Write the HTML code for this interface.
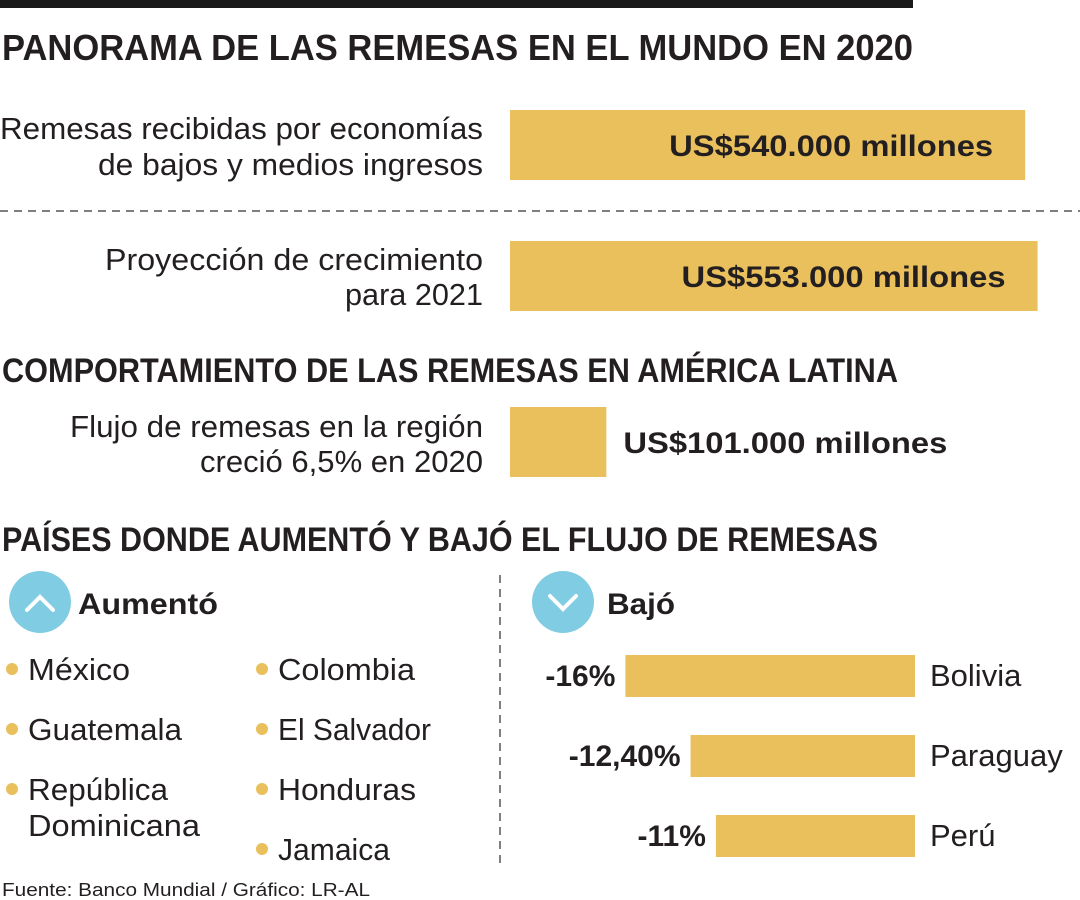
<!DOCTYPE html>
<html><head><meta charset="utf-8"><style>
html,body{margin:0;padding:0;background:#fff;width:1080px;height:900px;overflow:hidden}
svg text{font-family:"Liberation Sans",sans-serif;fill:#231F20}
.b{font-weight:bold}
</style></head><body>
<svg id="s" width="1080" height="900" viewBox="0 0 1080 900" xmlns="http://www.w3.org/2000/svg">
<rect x="0" y="0" width="913" height="8" fill="#1a1a1a"/>
<text class="b" x="2" y="60" font-size="36" textLength="911" lengthAdjust="spacingAndGlyphs">PANORAMA DE LAS REMESAS EN EL MUNDO EN 2020</text>
<text x="483" y="139" font-size="31" text-anchor="end" textLength="483" lengthAdjust="spacingAndGlyphs">Remesas recibidas por economías</text>
<text x="483" y="175" font-size="31" text-anchor="end" textLength="385" lengthAdjust="spacingAndGlyphs">de bajos y medios ingresos</text>
<line x1="0" y1="211" x2="1080" y2="211" stroke="#555" stroke-width="1.5" stroke-dasharray="8,6"/>
<text x="483" y="270" font-size="31" text-anchor="end" textLength="378" lengthAdjust="spacingAndGlyphs">Proyección de crecimiento</text>
<text x="483" y="305" font-size="31" text-anchor="end" textLength="138" lengthAdjust="spacingAndGlyphs">para 2021</text>
<text class="b" x="2" y="382" font-size="34" textLength="896" lengthAdjust="spacingAndGlyphs">COMPORTAMIENTO DE LAS REMESAS EN AMÉRICA LATINA</text>
<text x="483" y="437" font-size="31" text-anchor="end" textLength="413" lengthAdjust="spacingAndGlyphs">Flujo de remesas en la región</text>
<text x="483" y="472" font-size="31" text-anchor="end" textLength="283" lengthAdjust="spacingAndGlyphs">creció 6,5% en 2020</text>
<text class="b" x="2" y="551" font-size="34" textLength="876" lengthAdjust="spacingAndGlyphs">PAÍSES DONDE AUMENTÓ Y BAJÓ  EL FLUJO DE REMESAS</text>
<line x1="500" y1="575" x2="500" y2="866" stroke="#555" stroke-width="1.5" stroke-dasharray="8,6"/>
<circle cx="40" cy="602" r="31" fill="#80CCE3"/>
<polyline points="27,610 40,597 53,610" fill="none" stroke="#fff" stroke-width="4" stroke-linecap="round"/>
<text class="b" x="78" y="614" font-size="30" textLength="140" lengthAdjust="spacingAndGlyphs">Aumentó</text>
<circle cx="563" cy="602" r="31" fill="#80CCE3"/>
<polyline points="550,596 563,609 576,596" fill="none" stroke="#fff" stroke-width="4" stroke-linecap="round"/>
<text class="b" x="607" y="614" font-size="30" textLength="68" lengthAdjust="spacingAndGlyphs">Bajó</text>
<g font-size="31">
<circle cx="12" cy="669" r="6" fill="#E9C05C"/><text x="28" y="680" textLength="102" lengthAdjust="spacingAndGlyphs">México</text>
<circle cx="262" cy="669" r="6" fill="#E9C05C"/><text x="278" y="680" textLength="137" lengthAdjust="spacingAndGlyphs">Colombia</text>
<circle cx="12" cy="729" r="6" fill="#E9C05C"/><text x="28" y="740" textLength="154" lengthAdjust="spacingAndGlyphs">Guatemala</text>
<circle cx="262" cy="729" r="6" fill="#E9C05C"/><text x="278" y="740" textLength="153" lengthAdjust="spacingAndGlyphs">El Salvador</text>
<circle cx="12" cy="789" r="6" fill="#E9C05C"/><text x="28" y="800" textLength="140" lengthAdjust="spacingAndGlyphs">República</text>
<text x="28" y="836" textLength="172" lengthAdjust="spacingAndGlyphs">Dominicana</text>
<circle cx="262" cy="789" r="6" fill="#E9C05C"/><text x="278" y="800" textLength="138" lengthAdjust="spacingAndGlyphs">Honduras</text>
<circle cx="262" cy="849" r="6" fill="#E9C05C"/><text x="278" y="860" textLength="112" lengthAdjust="spacingAndGlyphs">Jamaica</text>
</g>
<g id="bars"></g>
<text x="2" y="896" font-size="18" textLength="368" lengthAdjust="spacingAndGlyphs">Fuente: Banco Mundial / Gráfico: LR-AL</text>
</svg>
<script>
const totalLabels = ["US$540.000 millones","US$553.000 millones","US$101.000 millones"];
const totalValues = [540, 553, 101];
const dropCountries = ["Bolivia","Paraguay","Perú"];
const dropValues = [16, 12.4, 11];
const dropLabels = ["-16%","-12,40%","-11%"];

const NS="http://www.w3.org/2000/svg";
const g=document.getElementById('bars');
const YEL="#E9C05C";
function mk(t,a){const e=document.createElementNS(NS,t);for(const k in a)e.setAttribute(k,a[k]);g.appendChild(e);return e;}
const xTotal=v=>v*0.954;
const topY=[110,241,407], barH=70;
totalValues.forEach((v,i)=>{
  const w=xTotal(v);
  const r=mk('rect',{x:510,y:topY[i],width:w,height:barH,fill:YEL});
  
  
  const t=mk('text',{'font-size':30,'font-weight':'bold',y:topY[i]+46});
  if(w>200){t.setAttribute('x',510+w-32);t.setAttribute('text-anchor','end');}
  else{t.setAttribute('x',510+w+17);}
  t.setAttribute('textLength',324);t.setAttribute('lengthAdjust','spacingAndGlyphs');
  t.textContent=totalLabels[i];
  
  
});
const xDrop=v=>v*18.1;
const dropY=[655,735,815], dh=42, right=915;
dropValues.forEach((v,i)=>{
  const w=xDrop(v);
  const r=mk('rect',{x:right-w,y:dropY[i],width:w,height:dh,fill:YEL});
  
  
  const t=mk('text',{x:right-w-10,y:dropY[i]+31,'font-size':30,'font-weight':'bold','text-anchor':'end'});
  t.textContent=dropLabels[i];
  
  
  const c=mk('text',{x:930,y:dropY[i]+31,'font-size':31});
  c.textContent=dropCountries[i];
  
  
});
</script>
</body></html>
